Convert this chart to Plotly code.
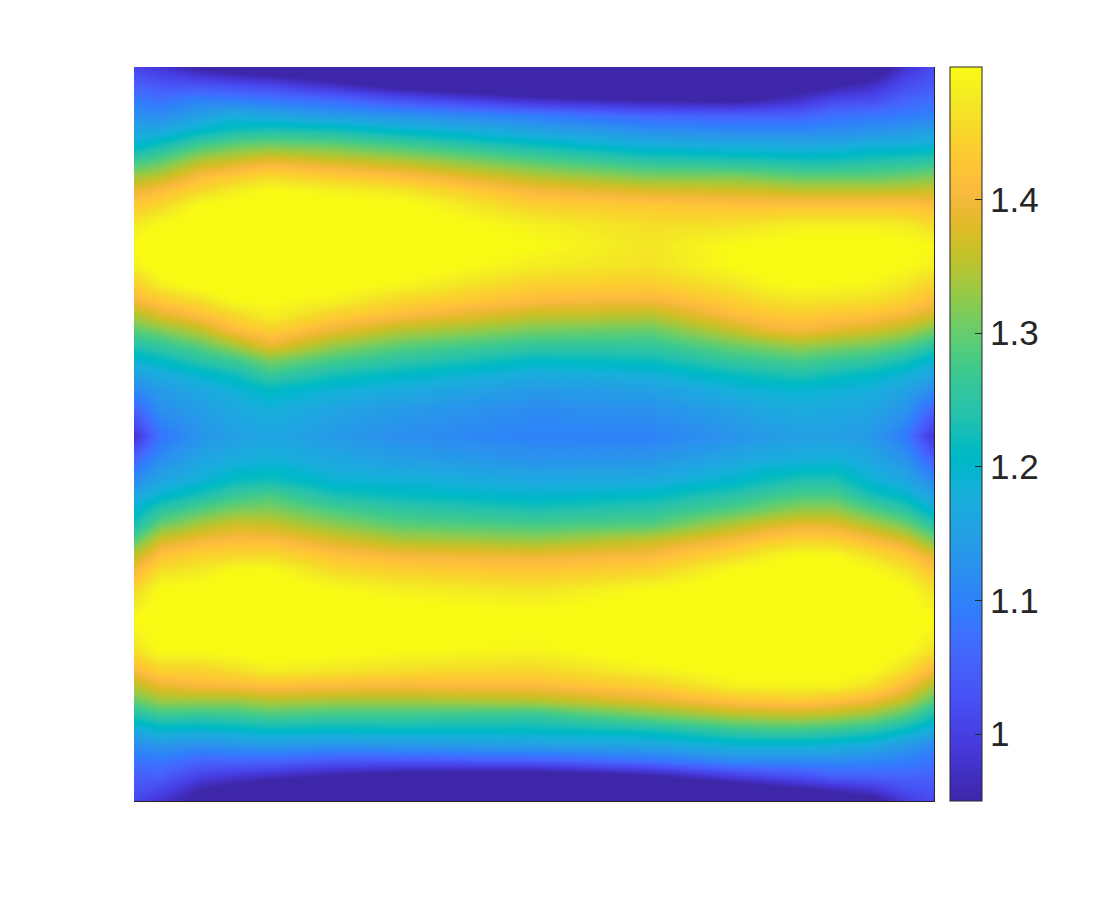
import numpy as np
import plotly.graph_objects as go

# grid positions along the image (same scale as the axes set below)
col_pos = [134, 160, 200, 235, 270, 335, 400, 534, 650, 734, 767, 800, 835, 870, 905, 934]
row_pos = [67, 85, 100, 115, 130, 145, 160, 175, 190, 205, 225, 245, 265, 285, 300,
           315, 330, 345, 360, 375, 390, 410, 436, 460, 480, 495, 510, 525, 540, 555,
           570, 590, 620, 650, 670, 685, 700, 715, 730, 745, 760, 775, 790, 801]

# values, one list per column
col_a = [1.01, 1.05, 1.09, 1.125, 1.16, 1.195, 1.265, 1.33, 1.39, 1.43, 1.475, 1.50, 1.485, 1.435, 1.40,
         1.345, 1.29, 1.24, 1.19, 1.15, 1.11, 1.05, .98, 1.065, 1.115, 1.16, 1.195, 1.23, 1.29, 1.355,
         1.40, 1.45, 1.50, 1.465, 1.405, 1.355, 1.30, 1.235, 1.17, 1.115, 1.08, 1.05, 1.03, 1.01]
col_b = [.985, 1.035, 1.075, 1.115, 1.165, 1.225, 1.29, 1.35, 1.41, 1.45, 1.50, 1.52, 1.52, 1.48, 1.43,
         1.38, 1.315, 1.26, 1.21, 1.17, 1.14, 1.12, 1.08, 1.12, 1.16, 1.195, 1.25, 1.305, 1.37, 1.42,
         1.46, 1.505, 1.52, 1.50, 1.445, 1.39, 1.335, 1.265, 1.195, 1.135, 1.085, 1.05, 1.01, .98]
col_c = [.945, 1.03, 1.10, 1.15, 1.20, 1.275, 1.345, 1.405, 1.45, 1.50, 1.52, 1.53, 1.53, 1.51, 1.46,
         1.415, 1.355, 1.295, 1.245, 1.195, 1.165, 1.145, 1.13, 1.16, 1.185, 1.23, 1.29, 1.345, 1.40, 1.445,
         1.475, 1.51, 1.53, 1.50, 1.445, 1.405, 1.335, 1.26, 1.19, 1.12, 1.06, 1.005, .95, .93]
col_d = [.92, 1.02, 1.095, 1.175, 1.225, 1.30, 1.365, 1.43, 1.48, 1.51, 1.53, 1.53, 1.53, 1.52, 1.50,
         1.45, 1.41, 1.34, 1.27, 1.22, 1.185, 1.165, 1.15, 1.175, 1.215, 1.265, 1.315, 1.37, 1.41, 1.45,
         1.50, 1.52, 1.53, 1.51, 1.46, 1.41, 1.335, 1.265, 1.20, 1.13, 1.06, .99, .92, .89]
col_e = [.90, 1.01, 1.085, 1.16, 1.235, 1.31, 1.385, 1.45, 1.50, 1.52, 1.53, 1.53, 1.53, 1.52, 1.50,
         1.485, 1.44, 1.39, 1.315, 1.26, 1.21, 1.18, 1.16, 1.185, 1.225, 1.28, 1.32, 1.365, 1.41, 1.455,
         1.50, 1.52, 1.53, 1.52, 1.48, 1.42, 1.35, 1.28, 1.21, 1.14, 1.06, .975, .90, .88]
col_f = [.88, .97, 1.065, 1.14, 1.225, 1.30, 1.365, 1.43, 1.485, 1.51, 1.525, 1.53, 1.53, 1.51, 1.485,
         1.44, 1.39, 1.33, 1.275, 1.225, 1.185, 1.155, 1.14, 1.165, 1.19, 1.23, 1.28, 1.325, 1.375, 1.42,
         1.455, 1.50, 1.52, 1.51, 1.47, 1.41, 1.34, 1.27, 1.205, 1.13, 1.04, .95, .88, .86]
col_g = [.88, .93, 1.03, 1.125, 1.20, 1.275, 1.345, 1.41, 1.47, 1.51, 1.52, 1.53, 1.52, 1.49, 1.45,
         1.41, 1.35, 1.295, 1.25, 1.205, 1.17, 1.14, 1.12, 1.15, 1.185, 1.215, 1.255, 1.295, 1.345, 1.40,
         1.44, 1.485, 1.52, 1.50, 1.46, 1.405, 1.34, 1.27, 1.21, 1.135, 1.04, .93, .88, .85]
col_h = [.85, .88, .975, 1.09, 1.155, 1.22, 1.285, 1.345, 1.40, 1.44, 1.485, 1.50, 1.48, 1.44, 1.41,
         1.36, 1.31, 1.26, 1.21, 1.17, 1.14, 1.115, 1.10, 1.13, 1.165, 1.195, 1.235, 1.28, 1.33, 1.39,
         1.425, 1.47, 1.51, 1.49, 1.45, 1.41, 1.35, 1.26, 1.21, 1.15, 1.05, .92, .87, .85]
col_i = [.85, .88, .95, 1.055, 1.12, 1.18, 1.245, 1.31, 1.375, 1.43, 1.46, 1.47, 1.465, 1.435, 1.40,
         1.35, 1.30, 1.26, 1.22, 1.18, 1.15, 1.125, 1.10, 1.135, 1.17, 1.21, 1.25, 1.29, 1.36, 1.405,
         1.445, 1.50, 1.52, 1.52, 1.485, 1.44, 1.385, 1.31, 1.225, 1.16, 1.08, .95, .88, .85]
col_j = [.85, .87, .94, 1.05, 1.11, 1.17, 1.235, 1.31, 1.37, 1.42, 1.465, 1.50, 1.50, 1.47, 1.44,
         1.41, 1.36, 1.305, 1.26, 1.215, 1.18, 1.15, 1.13, 1.165, 1.20, 1.245, 1.29, 1.35, 1.405, 1.455,
         1.50, 1.52, 1.53, 1.53, 1.51, 1.485, 1.425, 1.345, 1.26, 1.19, 1.115, 1.005, .89, .86]
col_k = [.86, .91, .96, 1.05, 1.11, 1.17, 1.23, 1.30, 1.365, 1.42, 1.475, 1.505, 1.51, 1.49, 1.46,
         1.425, 1.39, 1.32, 1.27, 1.225, 1.19, 1.165, 1.14, 1.175, 1.22, 1.265, 1.31, 1.375, 1.43, 1.48,
         1.51, 1.53, 1.53, 1.53, 1.51, 1.49, 1.43, 1.35, 1.27, 1.19, 1.115, 1.02, .92, .88]
col_l = [.88, .92, .98, 1.05, 1.11, 1.165, 1.225, 1.29, 1.355, 1.42, 1.485, 1.51, 1.52, 1.50, 1.47,
         1.435, 1.40, 1.335, 1.28, 1.235, 1.195, 1.17, 1.15, 1.18, 1.235, 1.28, 1.33, 1.39, 1.445, 1.50,
         1.52, 1.53, 1.53, 1.53, 1.51, 1.49, 1.435, 1.355, 1.27, 1.19, 1.115, 1.03, .94, .90]
col_m = [.90, .945, 1.015, 1.075, 1.115, 1.17, 1.225, 1.29, 1.355, 1.42, 1.485, 1.51, 1.52, 1.495, 1.465,
         1.425, 1.385, 1.32, 1.265, 1.22, 1.185, 1.165, 1.15, 1.185, 1.235, 1.28, 1.33, 1.385, 1.44, 1.495,
         1.52, 1.53, 1.53, 1.53, 1.51, 1.49, 1.42, 1.345, 1.26, 1.185, 1.115, 1.055, .96, .92]
col_n = [.90, .97, 1.02, 1.08, 1.125, 1.18, 1.235, 1.29, 1.355, 1.42, 1.485, 1.51, 1.51, 1.49, 1.46,
         1.42, 1.37, 1.31, 1.255, 1.205, 1.18, 1.16, 1.14, 1.165, 1.19, 1.23, 1.29, 1.35, 1.41, 1.465,
         1.50, 1.52, 1.53, 1.52, 1.50, 1.465, 1.40, 1.325, 1.245, 1.17, 1.11, 1.055, .98, .92]
col_o = [.98, 1.02, 1.055, 1.09, 1.135, 1.185, 1.24, 1.30, 1.36, 1.42, 1.48, 1.505, 1.50, 1.47, 1.44,
         1.40, 1.345, 1.285, 1.23, 1.185, 1.155, 1.13, 1.09, 1.13, 1.165, 1.20, 1.25, 1.31, 1.375, 1.43,
         1.47, 1.505, 1.52, 1.50, 1.46, 1.41, 1.355, 1.285, 1.21, 1.14, 1.095, 1.06, 1.02, .99]
col_p = [1.02, 1.04, 1.07, 1.10, 1.15, 1.19, 1.25, 1.31, 1.365, 1.41, 1.455, 1.495, 1.485, 1.44, 1.41,
         1.37, 1.31, 1.25, 1.19, 1.155, 1.115, 1.05, .98, 1.05, 1.11, 1.15, 1.19, 1.25, 1.31, 1.38,
         1.42, 1.465, 1.50, 1.465, 1.40, 1.345, 1.29, 1.225, 1.17, 1.11, 1.08, 1.05, 1.03, 1.02]

bar_ticks = [1, 1.1, 1.2, 1.3, 1.4]
bar_labels = ["1", "1.1", "1.2", "1.3", "1.4"]

# matlab parula, 64 steps
parula = [
    (0.2422, 0.1504, 0.6603), (0.2504, 0.1650, 0.7076), (0.2578, 0.1818, 0.7511), (0.2647, 0.1978, 0.7952),
    (0.2706, 0.2147, 0.8364), (0.2751, 0.2342, 0.8710), (0.2783, 0.2559, 0.8991), (0.2803, 0.2782, 0.9221),
    (0.2813, 0.3006, 0.9414), (0.2810, 0.3228, 0.9579), (0.2795, 0.3447, 0.9717), (0.2760, 0.3667, 0.9829),
    (0.2699, 0.3892, 0.9906), (0.2602, 0.4123, 0.9952), (0.2440, 0.4358, 0.9988), (0.2206, 0.4603, 0.9973),
    (0.1963, 0.4847, 0.9892), (0.1834, 0.5074, 0.9798), (0.1786, 0.5289, 0.9682), (0.1764, 0.5499, 0.9520),
    (0.1687, 0.5703, 0.9359), (0.1540, 0.5902, 0.9218), (0.1460, 0.6091, 0.9079), (0.1380, 0.6276, 0.8973),
    (0.1248, 0.6459, 0.8883), (0.1113, 0.6635, 0.8763), (0.0952, 0.6798, 0.8598), (0.0689, 0.6948, 0.8394),
    (0.0297, 0.7082, 0.8163), (0.0036, 0.7203, 0.7917), (0.0067, 0.7312, 0.7660), (0.0433, 0.7411, 0.7394),
    (0.0964, 0.7500, 0.7120), (0.1408, 0.7584, 0.6842), (0.1717, 0.7670, 0.6554), (0.1938, 0.7758, 0.6251),
    (0.2161, 0.7843, 0.5923), (0.2470, 0.7918, 0.5567), (0.2906, 0.7973, 0.5188), (0.3406, 0.8008, 0.4789),
    (0.3909, 0.8029, 0.4354), (0.4456, 0.8024, 0.3909), (0.5044, 0.7993, 0.3480), (0.5616, 0.7942, 0.3045),
    (0.6174, 0.7876, 0.2612), (0.6720, 0.7793, 0.2227), (0.7242, 0.7698, 0.1910), (0.7738, 0.7598, 0.1646),
    (0.8203, 0.7498, 0.1535), (0.8634, 0.7406, 0.1596), (0.9035, 0.7330, 0.1774), (0.9393, 0.7288, 0.2100),
    (0.9728, 0.7298, 0.2394), (0.9956, 0.7434, 0.2371), (0.9970, 0.7659, 0.2199), (0.9952, 0.7861, 0.2028),
    (0.9892, 0.8086, 0.1885), (0.9786, 0.8316, 0.1740), (0.9676, 0.8599, 0.1600), (0.9610, 0.8890, 0.1537),
    (0.9597, 0.9135, 0.1423), (0.9628, 0.9373, 0.1265), (0.9691, 0.9606, 0.1064), (0.9769, 0.9839, 0.0805),
]
colorscale = [[i / (len(parula) - 1), "rgb(%d,%d,%d)" % (r * 255, g * 255, b * 255)]
              for i, (r, g, b) in enumerate(parula)]

z = np.column_stack([col_a, col_b, col_c, col_d, col_e, col_f, col_g, col_h,
                     col_i, col_j, col_k, col_l, col_m, col_n, col_o, col_p])

# the page keeps an 8px body margin, so everything is placed relative to that
width = 1104
height = 884
offset = 8

fig = go.Figure(go.Heatmap(
    x=col_pos,
    y=row_pos,
    z=z,
    zsmooth="best",
    zmin=0.95,
    zmax=1.499,
    colorscale=colorscale,
    hoverinfo="skip",
    colorbar=dict(
        x=(950 - offset) / width,
        xanchor="left",
        xpad=0,
        ypad=0,
        y=1 - (434 - offset) / height,
        yanchor="middle",
        len=734 / height,
        lenmode="fraction",
        thickness=32,
        thicknessmode="pixels",
        outlinecolor="#262626",
        outlinewidth=1,
        ticks="inside",
        ticklen=7,
        tickcolor="#262626",
        tickwidth=1,
        tickvals=bar_ticks,
        ticktext=bar_labels,
        tickfont=dict(family="Liberation Sans", size=35, color="#262626"),
    ),
))
# only the bottom and right edges of the image have a frame line
fig.update_xaxes(
    domain=[(134 - offset) / width, (934 - offset) / width],
    range=[134, 934],
    showticklabels=False,
    ticks="",
    showgrid=False,
    zeroline=False,
    showline=True,
    linecolor="#262626",
    linewidth=1,
)
fig.update_yaxes(
    domain=[1 - (801 - offset) / height, 1 - (67 - offset) / height],
    range=[801, 67],
    side="right",
    showticklabels=False,
    ticks="",
    showgrid=False,
    zeroline=False,
    showline=True,
    linecolor="#262626",
    linewidth=1,
)
fig.update_layout(
    width=width,
    height=height,
    margin=dict(l=0, r=0, t=0, b=0),
    paper_bgcolor="white",
    plot_bgcolor="white",
)
fig.write_html("out.html")
